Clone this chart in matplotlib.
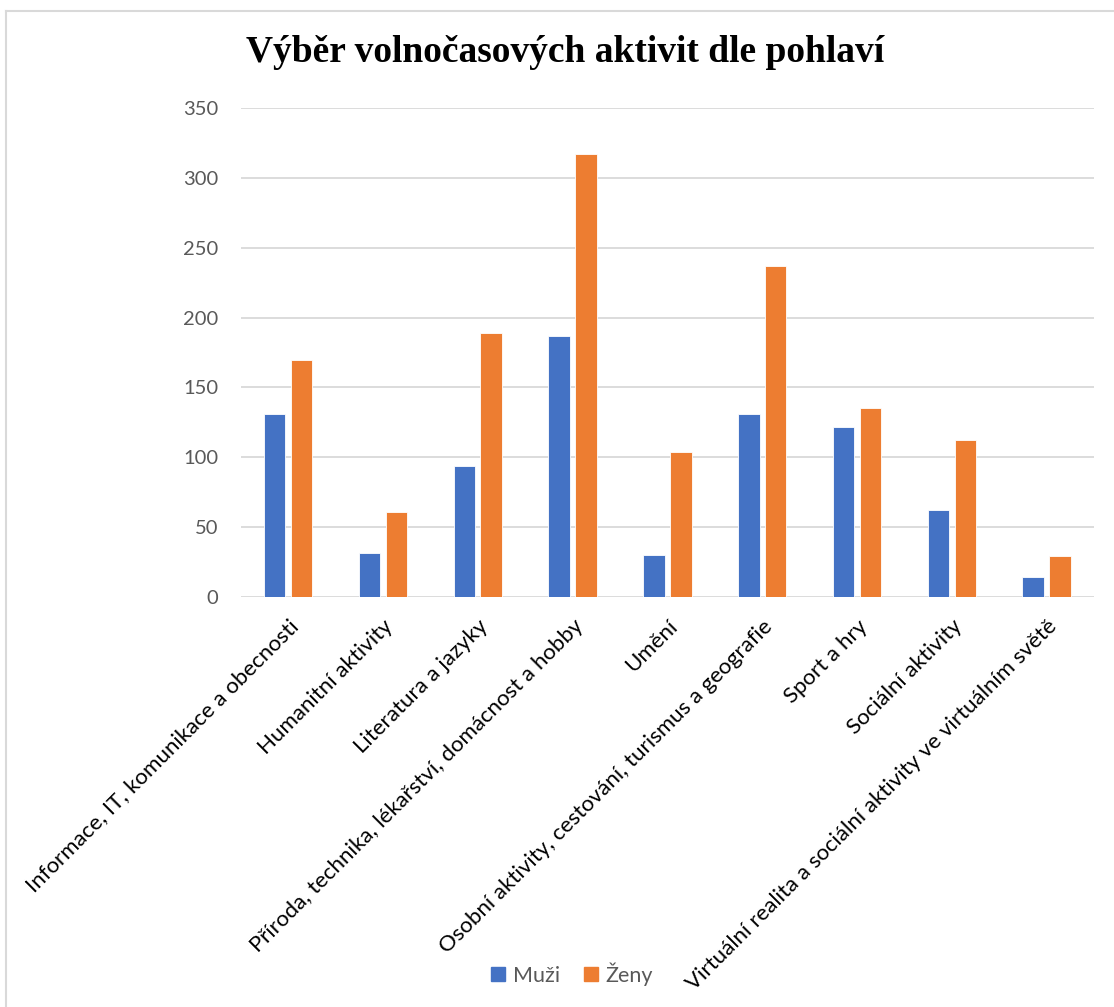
import numpy as np
import matplotlib.pyplot as plt
from matplotlib.lines import Line2D

# Výběr volnočasových aktivit dle pohlaví - sloupcový graf
categories = [
    "Informace, IT, komunikace a obecnosti",
    "Humanitní aktivity",
    "Literatura a jazyky",
    "Příroda, technika, lékařství, domácnost a hobby",
    "Umění",
    "Osobní aktivity, cestování, turismus a geografie",
    "Sport a hry",
    "Sociální aktivity",
    "Virtuální realita a sociální aktivity ve virtuálním světě",
]
muzi = [131, 31, 94, 187, 30, 131, 122, 62, 14]
zeny = [170, 61, 189, 317, 104, 237, 135, 112, 29]
yticks = [0, 50, 100, 150, 200, 250, 300, 350]
title = "Výběr volnočasových aktivit dle pohlaví"

BLUE = "#4472C4"
ORANGE = "#ED7D31"
GRID = "#D9D9D9"
TICK = "#595959"


def main():
    plt.rcParams['font.family'] = ['Lato', 'DejaVu Sans']

    fig = plt.figure(figsize=(11.14, 10.07), dpi=100)
    ax = fig.add_axes([0.2161, 0.4074, 0.766, 0.485])

    x = np.arange(len(categories))
    w = 0.227
    ax.bar(x - 0.142, muzi, w, color=BLUE, edgecolor="white", linewidth=0.6, label="Muži", zorder=3)
    ax.bar(x + 0.142, zeny, w, color=ORANGE, edgecolor="white", linewidth=0.6, label="Ženy", zorder=3)

    ax.set_xlim(-0.5, len(categories) - 0.5)
    ax.set_ylim(0, 350)
    ax.set_yticks(yticks)
    ax.set_yticklabels([str(v) for v in yticks], fontsize=14.5, color=TICK)
    ax.yaxis.grid(True, color=GRID, linewidth=1.3, zorder=0)
    ax.set_axisbelow(True)
    for s in ax.spines.values():
        s.set_visible(False)
    ax.tick_params(axis="y", length=0, pad=16)
    ax.tick_params(axis="x", length=0, pad=14)

    ax.set_xticks(x)
    ax.set_xticklabels(categories, fontsize=16, color="black", rotation=45,
                       ha="right", va="top", rotation_mode="anchor")

    fig.text(0.507, 0.948, title, fontsize=27, fontweight="bold",
             family="Liberation Serif", ha="center", va="center")

    handles = [Line2D([], [], marker="s", color=BLUE, linestyle="none", markersize=9.5),
               Line2D([], [], marker="s", color=ORANGE, linestyle="none", markersize=9.5)]
    fig.legend(handles, ["Muži", "Ženy"], loc="center", bbox_to_anchor=(0.513, 0.033),
               ncol=2, frameon=False, fontsize=15.5, handlelength=0.8, handletextpad=0.3,
               columnspacing=1.0, labelcolor=TICK)

    # rámeček grafu
    fig.add_artist(Line2D([0.0055, 0.0055], [0, 0.989], color=GRID, linewidth=1.5))
    fig.add_artist(Line2D([0.0055, 1], [0.989, 0.989], color=GRID, linewidth=1.5))

    fig.savefig("out.png", dpi=100)


if __name__ == '__main__':
    main()
